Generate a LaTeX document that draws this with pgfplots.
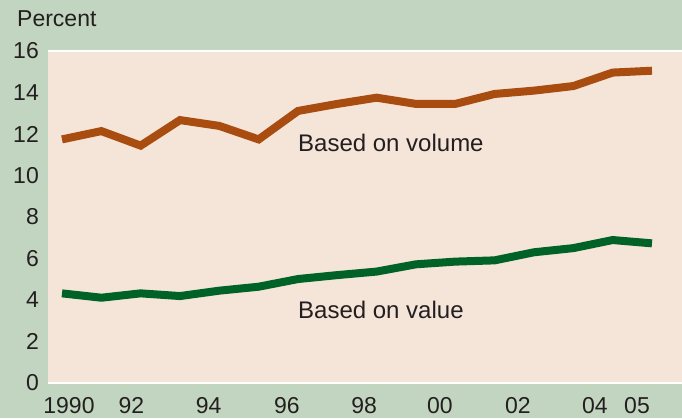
\documentclass[border=0pt]{standalone}
\usepackage{pgfplots}
\pgfplotsset{compat=1.18}
\usepackage{fontspec}
\setmainfont{Liberation Sans}
\definecolor{bggreen}{RGB}{194,213,192}
\definecolor{peach}{RGB}{245,228,216}
\definecolor{volcol}{RGB}{168,76,16}
\definecolor{valcol}{RGB}{0,98,38}
\definecolor{txt}{RGB}{35,31,32}
\begin{document}
\begin{tikzpicture}[x=1bp,y=1bp]
\fill[bggreen] (0,0) rectangle (682,418);
\node[anchor=base west, inner sep=0pt, text=txt, font=\fontsize{23bp}{27bp}\selectfont] at (17,391.3) {Percent};
\begin{axis}[
  at={(48bp,35bp)}, anchor=south west,
  scale only axis, width=634bp, height=332bp,
  xmin=1989.644, xmax=2005.764, ymin=0, ymax=16,
  axis line style={draw=none},
  axis background/.style={fill=peach},
  ytick={0,2,...,16},
  xtick={1990.178,1991.767,1993.73,1995.72,1997.68,1999.61,2001.59,2003.55,2004.62},
  xticklabels={1990,92,94,96,98,00,02,04,05},
  major tick length=0pt, tick style={draw=none},
  /pgf/number format/assume math mode=true,
  tick label style={font=\fontsize{23bp}{27bp}\selectfont, text=txt},
  yticklabel style={anchor=east, inner sep=0pt, xshift=-9bp},
  xticklabel style={anchor=north, inner sep=0pt, yshift=-14bp},
  clip=false,
]
\draw[white, line width=2bp] (rel axis cs:0,0) -- (rel axis cs:1,0);
\draw[white, line width=2bp] (rel axis cs:0,1) -- (rel axis cs:1,1);
\addplot[volcol, line width=8bp, line join=miter, line cap=butt] coordinates {
(1990,11.74) (1991,12.14) (1992,11.44) (1993,12.67) (1994,12.39) (1995,11.74)
(1996,13.11) (1997,13.45) (1998,13.75) (1999,13.45) (2000,13.45) (2001,13.93)
(2002,14.09) (2003,14.31) (2004,14.96) (2005,15.05)};
\addplot[valcol, line width=8bp, line join=miter, line cap=butt] coordinates {
(1990,4.32) (1991,4.11) (1992,4.32) (1993,4.19) (1994,4.45) (1995,4.64)
(1996,5.01) (1997,5.20) (1998,5.37) (1999,5.72) (2000,5.85) (2001,5.91)
(2002,6.30) (2003,6.50) (2004,6.89) (2005,6.73)};
\node[anchor=base west, inner sep=0pt, text=txt, font=\fontsize{24bp}{28bp}\selectfont] at (axis cs:1996,11.15) {Based on volume};
\node[anchor=base west, inner sep=0pt, text=txt, font=\fontsize{24bp}{28bp}\selectfont] at (axis cs:1996,3.12) {Based on value};
\end{axis}
\pgfresetboundingbox
\useasboundingbox (0,0) rectangle (682,418);
\end{tikzpicture}
\end{document}
